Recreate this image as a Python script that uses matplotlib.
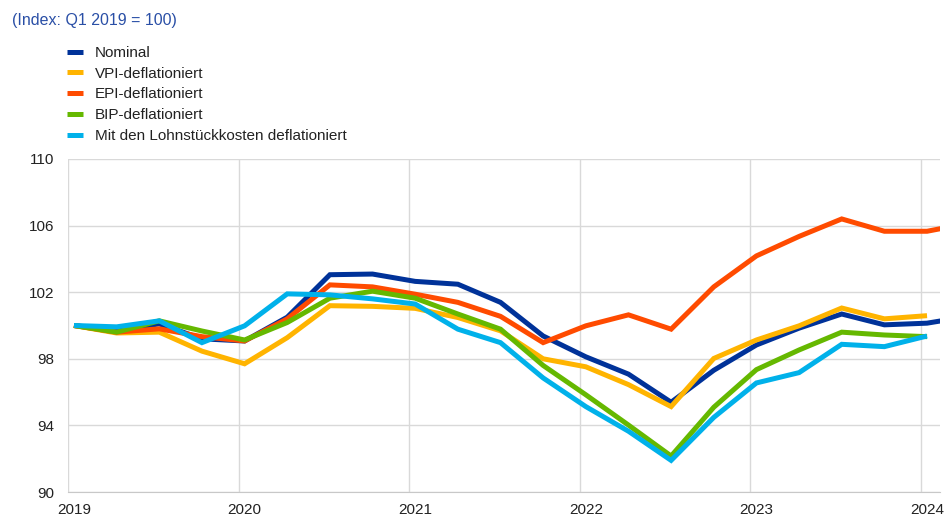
import matplotlib
matplotlib.use("Agg")
import matplotlib.pyplot as plt
from matplotlib.transforms import ScaledTranslation

plt.rcParams["font.family"] = ["Liberation Sans", "DejaVu Sans"]

# quarterly index values, Q1 2019 = 100
nominal = [100.0, 99.7, 100.1, 99.2, 99.07, 100.5, 103.05, 103.09, 102.65, 102.48, 101.39,
           99.37, 98.12, 97.08, 95.39, 97.31, 98.83, 99.84, 100.69, 100.04, 100.14, 100.56]
vpi = [100.0, 99.55, 99.6, 98.46, 97.7, 99.27, 101.19, 101.15, 101.03, 100.48, 99.68,
       98.0, 97.52, 96.45, 95.13, 98.02, 99.13, 99.98, 101.05, 100.4, 100.59]
epi = [100.0, 99.6, 99.8, 99.33, 99.07, 100.4, 102.44, 102.32, 101.88, 101.39, 100.55,
       98.97, 99.98, 100.64, 99.78, 102.32, 104.18, 105.35, 106.4, 105.66, 105.66, 106.15]
bip = [100.0, 99.6, 100.28, 99.67, 99.13, 100.18, 101.64, 102.06, 101.64, 100.69, 99.78,
       97.6, 95.84, 94.02, 92.16, 95.09, 97.35, 98.53, 99.6, 99.43, 99.33]
ulc = [100.0, 99.92, 100.28, 98.97, 99.98, 101.9, 101.84, 101.6, 101.29, 99.78, 98.97,
       96.85, 95.13, 93.65, 91.9, 94.48, 96.55, 97.17, 98.87, 98.73, 99.37]

labels = ["Nominal", "VPI-deflationiert", "EPI-deflationiert", "BIP-deflationiert",
          "Mit den Lohnstückkosten deflationiert"]
colors = ["#003299", "#FFB400", "#FF4B00", "#65B800", "#00B1EA"]
years = [2019, 2020, 2021, 2022, 2023, 2024]
y_ticks = [90, 94, 98, 102, 106, 110]


def quarter_x(n):
    return [2019.035 + 0.25 * i for i in range(n)]


def main():
    fig = plt.figure(figsize=(9.44, 5.18), dpi=100)
    ax = fig.add_axes([68 / 944, 1 - 492 / 518, 872 / 944, 333 / 518])

    for series, label, color in zip([nominal, vpi, epi, bip, ulc], labels, colors):
        ax.plot(quarter_x(len(series)), series, color=color, lw=3.6, label=label,
                solid_joinstyle="miter", solid_capstyle="butt")

    ax.set_xlim(2019, 2024.111)
    ax.set_ylim(90, 110)
    ax.set_xticks(years)
    ax.set_xticklabels([str(y) for y in years])
    ax.set_yticks(y_ticks)
    ax.grid(True, color="#d9d9d9", lw=1)
    ax.set_axisbelow(True)
    for side in ["top", "right", "left"]:
        ax.spines[side].set_visible(False)
    ax.spines["bottom"].set_color("#c8c8c8")
    ax.tick_params(axis="both", length=0, labelsize=11, colors="#222222")
    ax.tick_params(axis="y", pad=10)
    ax.tick_params(axis="x", pad=8)
    for lab in ax.get_xticklabels():
        lab.set_transform(lab.get_transform() + ScaledTranslation(6 / 100, 0, fig.dpi_scale_trans))

    fig.text(12 / 944, 1 - 20 / 518, "(Index: Q1 2019 = 100)", color="#2A4FA6",
             fontsize=11.5, va="center", ha="left")

    fig.legend(loc="upper left", bbox_to_anchor=(67 / 944, 1 - 46 / 518), frameon=False,
               fontsize=11, handlelength=1.05, handletextpad=0.78, labelspacing=0.44,
               borderpad=0, borderaxespad=0, labelcolor="#222222")

    fig.savefig("out.png", dpi=100)


if __name__ == "__main__":
    main()
